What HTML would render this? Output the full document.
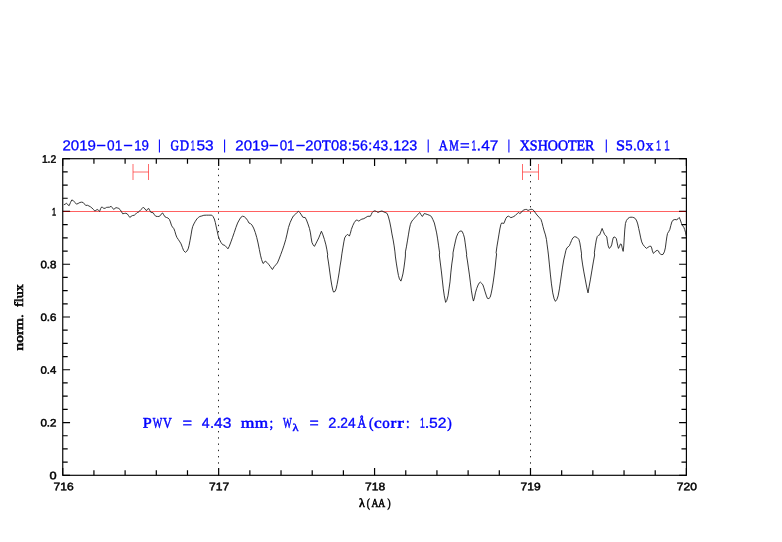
<!DOCTYPE html>
<html><head><meta charset="utf-8"><title>plot</title>
<style>html,body{margin:0;padding:0;background:#fff}svg{display:block}text.s{font-family:"Liberation Serif",serif}text.n{font-family:"Liberation Sans",sans-serif}</style></head><body>
<svg width="782" height="542" viewBox="0 0 782 542">
<rect width="782" height="542" fill="#fff"/>
<line x1="218.50" y1="158.70" x2="218.50" y2="475.30" stroke="#111" stroke-width="0.9" stroke-dasharray="1.4 4.85" stroke-dashoffset="2.7"/>
<line x1="530.50" y1="158.70" x2="530.50" y2="475.30" stroke="#111" stroke-width="0.9" stroke-dasharray="1.4 4.85" stroke-dashoffset="2.7"/>
<line x1="62.75" y1="211.50" x2="686.40" y2="211.50" stroke="#ff3838" stroke-width="0.8"/>
<path d="M133.00 164 V180 M148.50 164 V180 M133.00 172 H148.50" stroke="#ff3030" stroke-width="0.72" fill="none"/>
<path d="M522.50 164 V180 M538.50 164 V180 M522.50 172 H538.50" stroke="#ff3030" stroke-width="0.72" fill="none"/>
<path d="M63.79 204.76 L65.19 204.16 L66.48 203.17 L67.78 204.76 L69.18 205.66 L70.47 202.47 L71.77 199.97 L73.17 200.47 L74.96 202.47 L76.46 204.16 L78.15 203.46 L79.95 202.47 L81.44 202.17 L83.14 202.47 L84.44 203.96 L85.73 205.46 L87.43 205.26 L88.92 205.96 L90.42 206.76 L91.92 207.95 L93.41 209.45 L94.71 210.95 L95.91 210.45 L97.10 209.45 L98.40 210.25 L99.60 211.44 L100.69 208.45 L101.69 206.96 L102.69 207.45 L103.89 208.45 L105.38 208.15 L106.38 207.45 L107.88 207.26 L109.67 207.16 L111.07 206.26 L112.36 207.75 L113.66 209.45 L114.86 208.45 L116.05 207.65 L117.35 207.95 L118.85 208.45 L120.14 209.65 L121.34 211.44 L122.64 213.74 L124.33 213.44 L125.83 213.24 L127.32 213.94 L128.62 215.73 L129.82 217.43 L131.02 216.43 L132.31 215.63 L134.31 215.23 L135.80 213.94 L137.30 212.44 L138.00 212.48 L139.50 211.18 L140.99 209.48 L142.49 207.99 L143.69 207.49 L144.98 208.98 L146.48 210.78 L147.48 209.18 L148.77 208.49 L149.77 210.48 L150.77 212.28 L151.96 212.48 L153.16 212.77 L154.46 214.77 L155.75 216.27 L157.45 216.46 L158.95 216.46 L160.44 215.47 L161.74 213.47 L162.64 212.97 L163.73 214.77 L164.93 216.76 L166.43 217.46 L167.92 217.96 L169.42 219.46 L170.42 221.95 L171.41 225.14 L172.41 226.94 L173.91 228.73 L174.90 231.43 L175.90 234.92 L176.90 237.41 L178.39 239.60 L179.89 241.90 L181.09 243.89 L182.38 247.38 L183.68 250.68 L185.38 252.37 L186.87 251.17 L188.17 248.88 L189.07 245.39 L190.06 240.40 L191.06 234.92 L191.86 229.93 L192.66 226.64 L193.85 223.95 L195.35 221.25 L196.85 218.96 L198.34 217.46 L199.84 216.46 L201.83 215.97 L203.83 215.27 L206.32 215.17 L208.82 215.17 L211.81 215.17 L213.00 216.46 L214.30 218.96 L215.30 222.45 L216.00 225.83 L217.11 230.81 L218.21 235.79 L219.32 239.11 L220.98 242.43 L222.64 244.64 L224.85 245.41 L226.51 247.18 L227.95 248.84 L229.28 246.30 L230.94 241.87 L232.60 237.23 L234.26 232.47 L235.92 227.49 L237.58 223.06 L239.24 219.97 L240.89 217.31 L242.55 216.20 L244.21 216.65 L245.87 218.09 L247.53 220.30 L248.97 223.06 L250.52 223.62 L251.96 225.06 L253.62 228.04 L255.28 232.47 L256.72 237.45 L258.04 242.98 L259.37 249.62 L260.48 255.15 L261.59 259.58 L263.02 263.45 L264.13 262.67 L265.24 261.02 L266.90 262.34 L268.56 264.22 L270.22 266.44 L272.43 269.53 L274.09 266.77 L275.75 264.89 L277.41 262.90 L279.07 259.02 L280.73 254.60 L282.39 250.17 L284.05 245.19 L285.71 239.66 L287.03 234.13 L288.47 227.49 L290.13 222.51 L291.79 218.86 L293.45 215.87 L294.00 215.47 L295.50 214.18 L296.99 212.48 L298.49 211.28 L299.98 212.78 L301.48 214.97 L302.78 217.17 L303.97 217.47 L305.17 217.47 L306.47 219.96 L307.96 223.95 L309.46 228.44 L310.46 232.93 L311.16 237.91 L311.95 242.40 L313.15 244.90 L314.45 246.39 L315.74 243.90 L317.14 241.11 L318.74 237.91 L320.13 234.42 L321.43 231.23 L322.92 234.92 L324.42 239.41 L325.92 244.90 L326.91 249.88 L327.71 254.87 L327.41 255.98 L328.41 261.97 L329.11 266.96 L329.91 272.94 L330.90 279.92 L331.90 285.91 L332.90 290.39 L333.60 292.09 L335.09 291.39 L336.09 288.90 L337.09 284.41 L338.09 278.92 L339.08 272.94 L340.08 265.96 L341.08 259.97 L341.88 253.87 L342.87 247.89 L343.87 241.90 L344.67 237.91 L345.87 235.92 L347.36 234.42 L348.36 234.92 L349.36 236.12 L350.35 233.43 L351.35 229.44 L352.85 225.45 L354.34 222.45 L356.34 219.96 L357.83 220.46 L358.83 221.16 L360.33 219.96 L361.82 219.16 L363.82 218.66 L365.81 217.47 L367.81 216.27 L370.30 216.27 L371.30 214.48 L372.00 212.78 L373.20 211.48 L374.79 210.78 L376.49 211.48 L377.98 212.48 L379.98 211.48 L381.97 210.98 L383.97 211.98 L385.96 212.78 L387.16 213.48 L388.46 216.97 L389.75 221.96 L390.95 227.94 L391.95 233.92 L393.15 239.91 L394.14 245.89 L394.94 251.88 L395.44 256.98 L396.44 263.96 L397.43 269.95 L398.43 275.43 L399.43 278.92 L400.92 281.12 L401.92 277.93 L402.92 273.94 L403.92 267.95 L404.71 261.97 L405.41 255.98 L405.41 251.88 L406.41 246.89 L407.41 240.91 L408.41 234.92 L409.40 228.94 L410.40 224.45 L411.40 221.96 L412.89 219.76 L414.89 217.77 L416.88 215.47 L418.38 213.78 L419.68 212.48 L420.87 214.48 L422.37 216.47 L423.37 214.97 L424.36 213.48 L425.86 213.98 L427.85 214.67 L429.85 215.47 L431.35 216.47 L432.84 219.46 L434.34 222.95 L435.53 227.94 L436.63 232.93 L437.63 238.91 L438.63 245.89 L439.62 252.88 L439.32 254.99 L440.32 262.97 L441.32 270.95 L442.32 279.92 L443.31 288.90 L444.31 295.88 L445.61 302.36 L446.81 300.37 L448.00 295.88 L449.00 288.90 L450.00 281.92 L450.80 272.94 L451.80 263.96 L452.99 255.98 L452.99 252.88 L454.19 246.89 L455.49 240.91 L456.48 236.92 L457.98 233.43 L459.48 231.43 L460.97 230.93 L462.17 231.43 L463.46 234.42 L464.46 237.91 L465.16 242.90 L465.96 248.89 L466.76 254.87 L466.46 254.99 L467.45 260.97 L468.45 267.95 L469.45 274.94 L470.45 282.91 L471.44 290.89 L472.44 296.88 L473.44 301.07 L474.44 297.88 L475.43 292.89 L476.73 288.40 L478.13 284.91 L479.42 282.71 L480.42 282.12 L481.72 283.41 L482.91 284.91 L483.91 287.90 L485.11 291.89 L486.41 295.88 L487.40 298.37 L488.90 298.57 L490.10 297.38 L491.09 293.89 L492.09 288.90 L493.09 282.91 L494.09 275.93 L495.08 267.95 L495.88 259.97 L496.58 253.99 L496.08 252.88 L496.88 246.89 L497.88 240.91 L498.87 234.92 L499.87 228.94 L500.87 224.45 L501.67 222.95 L502.86 223.25 L503.86 223.45 L504.86 220.96 L505.85 218.46 L507.05 216.77 L508.35 216.17 L509.64 216.77 L510.84 217.67 L512.34 217.17 L513.83 216.47 L515.33 215.47 L516.83 213.98 L518.32 212.48 L519.82 213.48 L521.02 212.78 L522.31 210.98 L523.81 209.99 L525.30 209.49 L526.80 209.49 L528.00 210.49 L529.50 209.79 L530.99 209.19 L532.49 209.49 L533.98 210.78 L535.48 212.98 L536.98 214.97 L538.97 217.17 L540.97 219.46 L541.96 222.45 L542.96 226.44 L544.16 230.93 L545.45 234.92 L546.45 239.41 L547.15 244.90 L547.95 250.88 L548.45 254.99 L549.44 264.96 L550.44 274.94 L551.44 283.91 L552.74 292.89 L554.13 298.87 L555.43 301.37 L556.92 299.37 L558.12 295.88 L559.42 288.90 L560.42 281.92 L561.41 274.94 L562.41 267.95 L563.71 259.97 L564.90 254.99 L564.90 254.87 L565.90 250.38 L566.90 247.89 L568.10 246.89 L569.39 245.69 L570.39 243.40 L571.59 240.41 L572.88 237.91 L574.38 236.72 L575.88 236.92 L577.37 237.71 L578.87 239.41 L579.87 242.90 L580.66 247.89 L581.56 253.87 L581.36 255.98 L582.66 264.96 L583.85 271.94 L585.35 279.92 L586.85 287.90 L588.04 292.89 L589.04 286.90 L590.34 279.92 L591.83 270.95 L593.33 261.97 L594.63 254.99 L594.33 252.88 L595.32 245.89 L596.32 239.91 L597.32 236.42 L598.32 235.42 L599.61 234.92 L600.81 231.93 L602.11 228.44 L603.30 231.43 L604.60 234.42 L606.00 235.93 L606.80 236.92 L607.50 241.91 L608.19 245.90 L609.19 248.39 L610.49 247.40 L611.69 244.90 L612.48 240.91 L613.18 237.92 L613.98 236.92 L615.18 237.42 L616.27 238.42 L616.97 241.91 L617.77 245.90 L618.47 248.39 L619.46 246.40 L620.46 243.91 L621.46 244.41 L622.16 247.90 L623.16 251.39 L623.75 245.90 L624.25 237.92 L624.75 229.94 L625.45 223.46 L626.45 220.47 L627.94 218.47 L629.44 217.48 L630.94 217.18 L632.43 217.28 L633.93 217.67 L635.42 218.67 L636.72 220.97 L637.72 223.96 L638.71 228.45 L639.71 232.94 L640.71 237.92 L641.71 241.91 L642.90 244.41 L644.40 246.40 L646.39 248.39 L647.89 247.40 L649.39 246.40 L650.88 246.20 L651.68 247.90 L652.38 250.89 L653.38 253.38 L654.57 252.38 L655.87 250.89 L657.37 250.39 L658.36 250.89 L659.36 252.88 L660.66 254.38 L661.85 254.58 L663.05 254.38 L664.35 251.89 L665.35 247.90 L666.14 241.91 L666.84 236.92 L667.54 233.43 L668.64 231.74 L669.83 229.44 L670.83 225.45 L671.83 221.96 L673.03 220.17 L674.82 219.47 L676.82 219.77 L678.01 218.77 L679.31 217.48 L680.31 219.95 L681.47 223.41 L682.62 225.71 L683.77 227.24 L684.69 229.55 L685.46 232.23 L686.07 235.30 L686.45 236.84" fill="none" stroke="#1c1c1c" stroke-width="0.88" stroke-linejoin="round"/>
<rect x="62.75" y="158.70" width="623.65" height="316.60" fill="none" stroke="#000" stroke-width="1.15"/>
<path d="M62.75 475.30 v-7.30 M62.75 158.70 v7.30 M93.93 475.30 v-4.95 M93.93 158.70 v4.95 M125.11 475.30 v-4.95 M125.11 158.70 v4.95 M156.30 475.30 v-4.95 M156.30 158.70 v4.95 M187.48 475.30 v-4.95 M187.48 158.70 v4.95 M218.66 475.30 v-7.30 M218.66 158.70 v7.30 M249.85 475.30 v-4.95 M249.85 158.70 v4.95 M281.03 475.30 v-4.95 M281.03 158.70 v4.95 M312.21 475.30 v-4.95 M312.21 158.70 v4.95 M343.39 475.30 v-4.95 M343.39 158.70 v4.95 M374.57 475.30 v-7.30 M374.57 158.70 v7.30 M405.76 475.30 v-4.95 M405.76 158.70 v4.95 M436.94 475.30 v-4.95 M436.94 158.70 v4.95 M468.12 475.30 v-4.95 M468.12 158.70 v4.95 M499.30 475.30 v-4.95 M499.30 158.70 v4.95 M530.49 475.30 v-7.30 M530.49 158.70 v7.30 M561.67 475.30 v-4.95 M561.67 158.70 v4.95 M592.85 475.30 v-4.95 M592.85 158.70 v4.95 M624.04 475.30 v-4.95 M624.04 158.70 v4.95 M655.22 475.30 v-4.95 M655.22 158.70 v4.95 M686.40 475.30 v-7.30 M686.40 158.70 v7.30 M62.75 475.30 h7.30 M686.40 475.30 h-7.30 M62.75 462.11 h4.95 M686.40 462.11 h-4.95 M62.75 448.92 h4.95 M686.40 448.92 h-4.95 M62.75 435.73 h4.95 M686.40 435.73 h-4.95 M62.75 422.53 h7.30 M686.40 422.53 h-7.30 M62.75 409.34 h4.95 M686.40 409.34 h-4.95 M62.75 396.15 h4.95 M686.40 396.15 h-4.95 M62.75 382.96 h4.95 M686.40 382.96 h-4.95 M62.75 369.77 h7.30 M686.40 369.77 h-7.30 M62.75 356.57 h4.95 M686.40 356.57 h-4.95 M62.75 343.38 h4.95 M686.40 343.38 h-4.95 M62.75 330.19 h4.95 M686.40 330.19 h-4.95 M62.75 317.00 h7.30 M686.40 317.00 h-7.30 M62.75 303.81 h4.95 M686.40 303.81 h-4.95 M62.75 290.62 h4.95 M686.40 290.62 h-4.95 M62.75 277.42 h4.95 M686.40 277.42 h-4.95 M62.75 264.23 h7.30 M686.40 264.23 h-7.30 M62.75 251.04 h4.95 M686.40 251.04 h-4.95 M62.75 237.85 h4.95 M686.40 237.85 h-4.95 M62.75 224.66 h4.95 M686.40 224.66 h-4.95 M62.75 211.47 h7.30 M686.40 211.47 h-7.30 M62.75 198.27 h4.95 M686.40 198.27 h-4.95 M62.75 185.08 h4.95 M686.40 185.08 h-4.95 M62.75 171.89 h4.95 M686.40 171.89 h-4.95 M62.75 158.70 h7.30 M686.40 158.70 h-7.30" stroke="#000" stroke-width="1.2" fill="none"/>
<path d="M63.35 211.5 h6.70 M685.80 211.5 h-6.70" stroke="#7c0000" stroke-width="1.1" fill="none"/>
<line x1="159.40" y1="139.4" x2="159.40" y2="152.4" stroke="#0000ff" stroke-width="1.05"/>
<line x1="224.60" y1="139.4" x2="224.60" y2="152.4" stroke="#0000ff" stroke-width="1.05"/>
<line x1="428.20" y1="139.4" x2="428.20" y2="152.4" stroke="#0000ff" stroke-width="1.05"/>
<line x1="508.90" y1="139.4" x2="508.90" y2="152.4" stroke="#0000ff" stroke-width="1.05"/>
<line x1="606.30" y1="139.4" x2="606.30" y2="152.4" stroke="#0000ff" stroke-width="1.05"/>
<g opacity="0.995">
<text class="n" transform="translate(62.42 150.30) rotate(0.05) scale(1.053 1)" font-size="14.3" fill="#0000ff" stroke="#0000ff" stroke-width="0.3">2019</text>
<text class="n" transform="translate(96.26 150.30) rotate(0.05) scale(1.164 1)" font-size="14.3" fill="#0000ff" stroke="#0000ff" stroke-width="0.3">−</text>
<text class="n" transform="translate(107.07 150.30) rotate(0.05) scale(0.957 1)" font-size="14.3" fill="#0000ff" stroke="#0000ff" stroke-width="0.3">01</text>
<text class="n" transform="translate(123.17 150.30) rotate(0.05) scale(1.151 1)" font-size="14.3" fill="#0000ff" stroke="#0000ff" stroke-width="0.3">−</text>
<text class="n" transform="translate(134.21 150.30) rotate(0.05) scale(0.928 1)" font-size="14.3" fill="#0000ff" stroke="#0000ff" stroke-width="0.3">19</text>
<text class="s" transform="translate(170.42 150.30) rotate(0.05) scale(0.804 1)" font-size="14.8" fill="#0000ff" stroke="#0000ff" stroke-width="0.5">G</text>
<text class="s" transform="translate(179.77 150.30) rotate(0.05) scale(0.873 1)" font-size="14.8" fill="#0000ff" stroke="#0000ff" stroke-width="0.5">D</text>
<text class="n" transform="translate(190.85 150.30) rotate(0.05) scale(0.530 1)" font-size="14.3" fill="#0000ff" stroke="#0000ff" stroke-width="0.3">1</text>
<text class="n" transform="translate(196.42 150.30) rotate(0.05) scale(1.082 1)" font-size="14.3" fill="#0000ff" stroke="#0000ff" stroke-width="0.3">53</text>
<text class="n" transform="translate(235.32 150.30) rotate(0.05) scale(1.053 1)" font-size="14.3" fill="#0000ff" stroke="#0000ff" stroke-width="0.3">2019</text>
<text class="n" transform="translate(268.97 150.30) rotate(0.05) scale(1.151 1)" font-size="14.3" fill="#0000ff" stroke="#0000ff" stroke-width="0.3">−</text>
<text class="n" transform="translate(279.67 150.30) rotate(0.05) scale(0.937 1)" font-size="14.3" fill="#0000ff" stroke="#0000ff" stroke-width="0.3">01</text>
<text class="n" transform="translate(295.77 150.30) rotate(0.05) scale(1.137 1)" font-size="14.3" fill="#0000ff" stroke="#0000ff" stroke-width="0.3">−</text>
<text class="n" transform="translate(305.33 150.30) rotate(0.05) scale(1.037 1)" font-size="14.3" fill="#0000ff" stroke="#0000ff" stroke-width="0.3">20</text>
<text class="s" transform="translate(321.95 150.30) rotate(0.05) scale(0.956 1)" font-size="14.8" fill="#0000ff" stroke="#0000ff" stroke-width="0.5">T</text>
<text class="n" transform="translate(331.04 150.30) rotate(0.05) scale(1.030 1)" font-size="14.3" fill="#0000ff" stroke="#0000ff" stroke-width="0.3">08</text>
<text class="n" transform="translate(347.68 150.30) rotate(0.05) scale(1.059 1)" font-size="14.3" fill="#0000ff" stroke="#0000ff" stroke-width="0.3">:</text>
<text class="n" transform="translate(352.05 150.30) rotate(0.05) scale(0.990 1)" font-size="14.3" fill="#0000ff" stroke="#0000ff" stroke-width="0.3">56</text>
<text class="n" transform="translate(368.11 150.30) rotate(0.05) scale(1.118 1)" font-size="14.3" fill="#0000ff" stroke="#0000ff" stroke-width="0.3">:</text>
<text class="n" transform="translate(372.75 150.30) rotate(0.05) scale(0.970 1)" font-size="14.3" fill="#0000ff" stroke="#0000ff" stroke-width="0.3">43</text>
<text class="n" transform="translate(388.41 150.30) rotate(0.05) scale(1.118 1)" font-size="14.3" fill="#0000ff" stroke="#0000ff" stroke-width="0.3">.</text>
<text class="n" transform="translate(393.35 150.30) rotate(0.05) scale(1.004 1)" font-size="14.3" fill="#0000ff" stroke="#0000ff" stroke-width="0.3">123</text>
<text class="s" transform="translate(438.83 150.30) rotate(0.05) scale(0.845 1)" font-size="14.8" fill="#0000ff" stroke="#0000ff" stroke-width="0.5">A</text>
<text class="s" transform="translate(449.19 150.30) rotate(0.05) scale(0.729 1)" font-size="14.8" fill="#0000ff" stroke="#0000ff" stroke-width="0.5">M</text>
<text class="n" transform="translate(459.88 150.30) rotate(0.05) scale(1.162 1)" font-size="14.3" fill="#0000ff" stroke="#0000ff" stroke-width="0.3">=</text>
<text class="n" transform="translate(471.48 150.30) rotate(0.05) scale(0.606 1)" font-size="14.3" fill="#0000ff" stroke="#0000ff" stroke-width="0.3">1</text>
<text class="n" transform="translate(476.55 150.30) rotate(0.05) scale(1.176 1)" font-size="14.3" fill="#0000ff" stroke="#0000ff" stroke-width="0.3">.</text>
<text class="n" transform="translate(481.24 150.30) rotate(0.05) scale(1.082 1)" font-size="14.3" fill="#0000ff" stroke="#0000ff" stroke-width="0.3">47</text>
<text class="s" transform="translate(519.75 150.30) rotate(0.05) scale(0.947 1)" font-size="14.8" fill="#0000ff" stroke="#0000ff" stroke-width="0.5">XSHOOTER</text>
<text class="s" transform="translate(615.99 150.30) rotate(0.05) scale(1.100 1)" font-size="14.8" fill="#0000ff" stroke="#0000ff" stroke-width="0.5">S</text>
<text class="n" transform="translate(625.37 150.30) rotate(0.05) scale(0.931 1)" font-size="14.3" fill="#0000ff" stroke="#0000ff" stroke-width="0.3">5</text>
<text class="n" transform="translate(632.68 150.30) rotate(0.05) scale(1.059 1)" font-size="14.3" fill="#0000ff" stroke="#0000ff" stroke-width="0.3">.</text>
<text class="n" transform="translate(636.75 150.30) rotate(0.05) scale(1.014 1)" font-size="14.3" fill="#0000ff" stroke="#0000ff" stroke-width="0.3">0</text>
<text class="s" transform="translate(645.86 150.30) rotate(0.05) scale(1.052 1)" font-size="14.8" fill="#0000ff" stroke="#0000ff" stroke-width="0.5">x</text>
<text class="n" transform="translate(656.06 150.30) rotate(0.05) scale(0.636 1)" font-size="14.3" fill="#0000ff" stroke="#0000ff" stroke-width="0.3">1</text>
<text class="n" transform="translate(664.22 150.30) rotate(0.05) scale(0.682 1)" font-size="14.3" fill="#0000ff" stroke="#0000ff" stroke-width="0.3">1</text>
<text class="s" transform="translate(142.84 427.80) rotate(0.05) scale(1.090 1)" font-size="14.8" fill="#0000ff" stroke="#0000ff" stroke-width="0.5">P</text>
<text class="s" transform="translate(152.67 427.80) rotate(0.05) scale(0.683 1)" font-size="14.8" fill="#0000ff" stroke="#0000ff" stroke-width="0.5">W</text>
<text class="s" transform="translate(163.02 427.80) rotate(0.05) scale(0.818 1)" font-size="14.8" fill="#0000ff" stroke="#0000ff" stroke-width="0.5">V</text>
<text class="n" transform="translate(182.38 427.80) rotate(0.05) scale(1.149 1)" font-size="14.3" fill="#0000ff" stroke="#0000ff" stroke-width="0.3">=</text>
<text class="n" transform="translate(201.65 427.80) rotate(0.05) scale(0.987 1)" font-size="14.3" fill="#0000ff" stroke="#0000ff" stroke-width="0.3">4</text>
<text class="n" transform="translate(210.08 427.80) rotate(0.05) scale(1.059 1)" font-size="14.3" fill="#0000ff" stroke="#0000ff" stroke-width="0.3">.</text>
<text class="n" transform="translate(214.04 427.80) rotate(0.05) scale(1.088 1)" font-size="14.3" fill="#0000ff" stroke="#0000ff" stroke-width="0.3">43</text>
<text class="s" transform="translate(240.64 427.80) rotate(0.05) scale(1.191 1)" font-size="14.8" fill="#0000ff" stroke="#0000ff" stroke-width="0.5">m</text>
<text class="s" transform="translate(254.84 427.80) rotate(0.05) scale(1.165 1)" font-size="14.8" fill="#0000ff" stroke="#0000ff" stroke-width="0.5">m</text>
<text class="s" transform="translate(269.40 427.80) rotate(0.05) scale(0.893 1)" font-size="14.8" fill="#0000ff" stroke="#0000ff" stroke-width="0.5">;</text>
<text class="s" transform="translate(282.96 427.80) rotate(0.05) scale(0.634 1)" font-size="14.8" fill="#0000ff" stroke="#0000ff" stroke-width="0.5">W</text>
<text class="s" transform="translate(292.53 431.00) rotate(0.05) scale(1.178 1)" font-size="10.5" fill="#0000ff" stroke="#0000ff" stroke-width="0.45">λ</text>
<text class="n" transform="translate(309.40 427.80) rotate(0.05) scale(1.108 1)" font-size="14.3" fill="#0000ff" stroke="#0000ff" stroke-width="0.3">=</text>
<text class="n" transform="translate(328.34 427.80) rotate(0.05) scale(1.014 1)" font-size="14.3" fill="#0000ff" stroke="#0000ff" stroke-width="0.3">2</text>
<text class="n" transform="translate(336.38 427.80) rotate(0.05) scale(1.059 1)" font-size="14.3" fill="#0000ff" stroke="#0000ff" stroke-width="0.3">.</text>
<text class="n" transform="translate(340.27 427.80) rotate(0.05) scale(0.964 1)" font-size="14.3" fill="#0000ff" stroke="#0000ff" stroke-width="0.3">24</text>
<text class="s" transform="translate(357.62 427.80) rotate(0.05) scale(0.818 1)" font-size="14.8" fill="#0000ff" stroke="#0000ff" stroke-width="0.5">Å</text>
<text class="s" transform="translate(369.08 427.80) rotate(0.05) scale(0.909 1)" font-size="14.8" fill="#0000ff" stroke="#0000ff" stroke-width="0.5">(</text>
<text class="s" transform="translate(374.11 427.80) rotate(0.05) scale(1.177 1)" font-size="14.8" fill="#0000ff" stroke="#0000ff" stroke-width="0.5">c</text>
<text class="s" transform="translate(382.15 427.80) rotate(0.05) scale(1.014 1)" font-size="14.8" fill="#0000ff" stroke="#0000ff" stroke-width="0.5">o</text>
<text class="s" transform="translate(390.46 427.80) rotate(0.05) scale(1.176 1)" font-size="14.8" fill="#0000ff" stroke="#0000ff" stroke-width="0.5">r</text>
<text class="s" transform="translate(397.17 427.80) rotate(0.05) scale(1.333 1)" font-size="14.8" fill="#0000ff" stroke="#0000ff" stroke-width="0.5">r</text>
<text class="s" transform="translate(405.96 427.80) rotate(0.05) scale(0.875 1)" font-size="14.8" fill="#0000ff" stroke="#0000ff" stroke-width="0.5">:</text>
<text class="n" transform="translate(419.88 427.80) rotate(0.05) scale(0.606 1)" font-size="14.3" fill="#0000ff" stroke="#0000ff" stroke-width="0.3">1</text>
<text class="n" transform="translate(424.65 427.80) rotate(0.05) scale(1.176 1)" font-size="14.3" fill="#0000ff" stroke="#0000ff" stroke-width="0.3">.</text>
<text class="n" transform="translate(429.02 427.80) rotate(0.05) scale(1.096 1)" font-size="14.3" fill="#0000ff" stroke="#0000ff" stroke-width="0.3">52</text>
<text class="s" transform="translate(447.26 427.80) rotate(0.05) scale(0.909 1)" font-size="14.8" fill="#0000ff" stroke="#0000ff" stroke-width="0.5">)</text>
<text class="n" transform="translate(53.57 490.30) rotate(0.05) scale(1.106 1)" font-size="10.9" fill="#000000" stroke="#000000" stroke-width="0.5">716</text>
<text class="n" transform="translate(209.07 490.30) rotate(0.05) scale(1.106 1)" font-size="10.9" fill="#000000" stroke="#000000" stroke-width="0.5">717</text>
<text class="n" transform="translate(365.12 490.30) rotate(0.05) scale(1.106 1)" font-size="10.9" fill="#000000" stroke="#000000" stroke-width="0.5">718</text>
<text class="n" transform="translate(520.52 490.30) rotate(0.05) scale(1.106 1)" font-size="10.9" fill="#000000" stroke="#000000" stroke-width="0.5">719</text>
<text class="n" transform="translate(676.83 490.30) rotate(0.05) scale(1.100 1)" font-size="10.9" fill="#000000" stroke="#000000" stroke-width="0.5">720</text>
<text class="s" transform="translate(358.92 507.00) rotate(0.05) scale(0.992 1)" font-size="12.2" fill="#000000" stroke="#000000" stroke-width="0.65">λ</text>
<text class="s" transform="translate(366.67 507.00) rotate(0.05) scale(0.753 1)" font-size="12.2" fill="#000000" stroke="#000000" stroke-width="0.65">(</text>
<text class="s" transform="translate(371.38 507.00) rotate(0.05) scale(0.787 1)" font-size="12.2" fill="#000000" stroke="#000000" stroke-width="0.65">AA</text>
<text class="s" transform="translate(387.62 507.00) rotate(0.05) scale(0.759 1)" font-size="12.2" fill="#000000" stroke="#000000" stroke-width="0.65">)</text>
<text class="n" transform="translate(49.52 479.30) rotate(0.05) scale(1.172 1)" font-size="10.9" fill="#000000" stroke="#000000" stroke-width="0.5">0</text>
<text class="n" transform="translate(40.44 426.53) rotate(0.05) scale(1.061 1)" font-size="10.9" fill="#000000" stroke="#000000" stroke-width="0.5">0.2</text>
<text class="n" transform="translate(40.44 373.77) rotate(0.05) scale(1.047 1)" font-size="10.9" fill="#000000" stroke="#000000" stroke-width="0.5">0.4</text>
<text class="n" transform="translate(40.44 321.00) rotate(0.05) scale(1.061 1)" font-size="10.9" fill="#000000" stroke="#000000" stroke-width="0.5">0.6</text>
<text class="n" transform="translate(40.44 268.23) rotate(0.05) scale(1.061 1)" font-size="10.9" fill="#000000" stroke="#000000" stroke-width="0.5">0.8</text>
<text class="n" transform="translate(52.03 215.47) rotate(0.05) scale(0.679 1)" font-size="10.9" fill="#000000" stroke="#000000" stroke-width="0.5">1</text>
<text class="n" transform="translate(41.88 162.70) rotate(0.05) scale(0.945 1)" font-size="10.9" fill="#000000" stroke="#000000" stroke-width="0.5">1.2</text>
<text class="s" transform="translate(22.90 350.38) rotate(-89.95) scale(1.236 1)" font-size="12.4" fill="#000000" stroke="#000000" stroke-width="0.6">norm.</text>
<text class="s" transform="translate(22.90 306.90) rotate(-89.95) scale(1.130 1)" font-size="12.4" fill="#000000" stroke="#000000" stroke-width="0.6">flux</text>
</g>
</svg></body></html>
